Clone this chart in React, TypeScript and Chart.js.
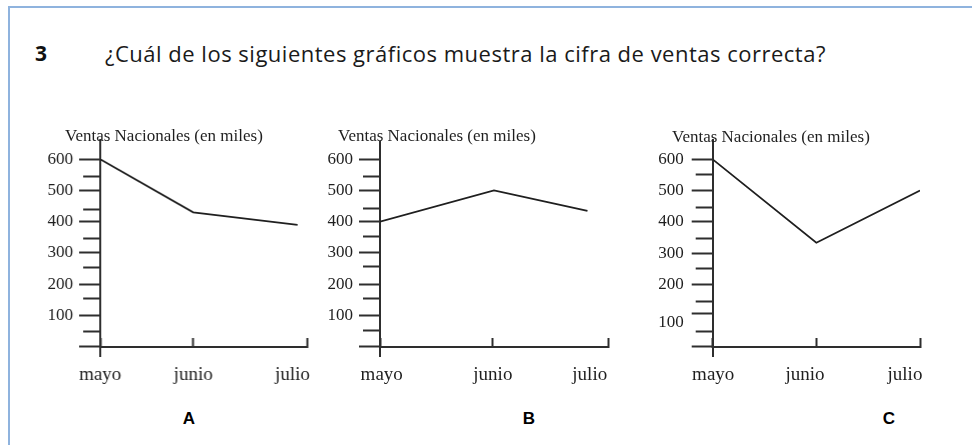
import React, { useEffect, useRef } from "react";
import { Chart, registerables } from "chart.js";

Chart.register(...registerables);

// ---------- data ----------
const QUESTION_NUMBER = "3";
const QUESTION = "¿Cuál de los siguientes gráficos muestra la cifra de ventas correcta?";
const AXIS_TITLE = "Ventas Nacionales (en miles)";
const MONTHS = ["mayo", "junio", "julio"];
const PANEL_LETTERS = ["A", "B", "C"];

// where each month tick mark sits on the x axis (mayo = 0, julio = 2)
const monthTicksA = [0, 0.9, 2];
const monthTicksB = [0, 0.99, 2];
const monthTicksC = [0, 1, 2];

// where each month name is written along the same axis
const monthLabelsAtA = [0, 0.9, 1.86];
const monthLabelsAtB = [0.015, 0.99, 1.84];
const monthLabelsAtC = [0.005, 0.89, 1.855];

// series: x position along the month axis and sales value (miles)
const seriesXA = [0, 0.9, 1.91];
const salesA = [600, 430, 390];
const seriesXB = [0, 1, 1.82];
const salesB = [400, 500, 435];
const seriesXC = [0, 1, 2];
const salesC = [600, 333, 500];

// y axis tick marks
const majorTicksAB = [0, 100, 200, 300, 400, 500, 600];
const minorTicksA = [50, 155, 255, 345, 440, 545];
const minorTicksB = [53, 155, 256, 352, 443, 546];
const majorTicksC = [0, 105, 200, 300, 400, 500, 600];
const minorTicksC = [50, 145, 250, 345, 445, 550];

// y axis tick labels (value where the label sits, text)
const labelValuesAB = [100, 200, 300, 400, 500, 600];
const labelTextsAB = ["100", "200", "300", "400", "500", "600"];
const labelValuesC = [78, 200, 300, 400, 500, 600];
const labelTextsC = ["100", "200", "300", "400", "500", "600"];

// ---------- styles ----------
const INK = "#1f1f1f";
const AXIS = "#2e2e2e";
const SERIF = "'Liberation Serif', 'Times New Roman', serif";

type PanelProps = {
  left: number;
  top: number;
  width: number;
  height: number;
  padL: number;
  padR: number;
  padT: number;
  padB: number;
  yWidth: number;
  yMax: number;
  tickPad: number;
  monthTicks: number[];
  monthLabelsAt: number[];
  xs: number[];
  values: number[];
  majors: number[];
  minors: number[];
  labelValues: number[];
  labelTexts: string[];
};

function LinePanel(p: PanelProps) {
  const ref = useRef<HTMLCanvasElement | null>(null);
  useEffect(() => {
    if (!ref.current) return;
    const allTicks = Array.from(new Set([...p.majors, ...p.minors, ...p.labelValues])).sort(
      (a, b) => a - b
    );
    const MAJOR_LEN = 21;
    const MINOR_LEN = 17;
    const chart = new Chart(ref.current, {
      type: "line",
      data: {
        datasets: [
          {
            data: p.xs.map((x, i) => ({ x, y: p.values[i] })),
            borderColor: INK,
            borderWidth: 1.8,
            pointRadius: 0,
            tension: 0,
            fill: false,
          },
        ],
      },
      options: {
        animation: false,
        responsive: false,
        maintainAspectRatio: false,
        devicePixelRatio: 1,
        events: [],
        layout: { padding: { left: p.padL, right: p.padR, top: p.padT, bottom: p.padB } },
        plugins: {
          legend: { display: false },
          tooltip: { enabled: false },
        },
        scales: {
          x: {
            type: "linear",
            position: { y: 0 },
            min: 0,
            max: 2,
            afterBuildTicks: (s: any) => {
              s.ticks = p.monthTicks.map((v) => ({ value: v }));
            },
            ticks: { display: false, autoSkip: false },
            grid: { drawOnChartArea: false, tickLength: -10, tickWidth: 2, tickColor: AXIS },
            border: { color: AXIS, width: 2 },
          },
          xLabels: {
            type: "linear",
            axis: "x",
            position: { y: 0 },
            min: 0,
            max: 2,
            afterBuildTicks: (s: any) => {
              s.ticks = p.monthLabelsAt.map((v) => ({ value: v }));
            },
            ticks: {
              callback: (_v: any, i: number) => MONTHS[i],
              color: INK,
              font: { family: SERIF, size: 19 },
              padding: 17,
              maxRotation: 0,
              autoSkip: false,
            },
            grid: { display: false, drawOnChartArea: false, drawTicks: false },
            border: { display: false },
          },
          y: {
            type: "linear",
            min: -32,
            max: p.yMax,
            afterBuildTicks: (s: any) => {
              s.ticks = allTicks.map((v) => ({ value: v }));
            },
            afterFit: (s: any) => {
              s.width = p.yWidth;
            },
            ticks: {
              callback: (v: any) => {
                const k = p.labelValues.indexOf(v);
                return k >= 0 ? p.labelTexts[k] : "";
              },
              color: INK,
              font: { family: SERIF, size: 17 },
              padding: p.tickPad,
              autoSkip: false,
            },
            grid: {
              drawOnChartArea: false,
              tickLength: MAJOR_LEN,
              tickWidth: 2,
              tickColor: (ctx: any) => {
                const v = ctx.tick ? ctx.tick.value : 0;
                return p.majors.includes(v) || p.minors.includes(v) ? AXIS : "rgba(0,0,0,0)";
              },
              tickBorderDash: (ctx: any) => {
                const v = ctx.tick ? ctx.tick.value : 0;
                return p.minors.includes(v) ? [0, MAJOR_LEN - MINOR_LEN, 100, 0] : [];
              },
            },
            border: { color: AXIS, width: 2 },
          },
        },
      } as any,
    });
    return () => chart.destroy();
  }, []);
  return (
    <canvas
      ref={ref}
      width={p.width}
      height={p.height}
      style={{ position: "absolute", left: p.left, top: p.top, width: p.width, height: p.height }}
    />
  );
}

export default function App() {
  const letterPos = [
    { x: 189, y: 418 },
    { x: 529, y: 418 },
    { x: 889, y: 418 },
  ];
  const axisTitlePos = [
    { x: 65, y: 136 },
    { x: 338, y: 136 },
    { x: 672, y: 137 },
  ];
  return (
    <div
      style={{
        position: "absolute",
        left: 0,
        top: 0,
        width: 972,
        height: 445,
        background: "#ffffff",
        overflow: "hidden",
      }}
    >
      <div
        style={{
          position: "absolute",
          left: 8,
          top: 6,
          width: 1000,
          height: 500,
          borderTop: "2px solid #8fb3de",
          borderLeft: "2px solid #8fb3de",
        }}
      />
      <div
        style={{
          position: "absolute",
          left: 35,
          top: 38,
          font: "bold 21px 'Open Sans', sans-serif",
          lineHeight: "30px",
          color: "#111",
        }}
      >
        {QUESTION_NUMBER}
      </div>
      <div
        style={{
          position: "absolute",
          left: 105,
          top: 38,
          font: "22px 'Open Sans', sans-serif",
          letterSpacing: "0.5px",
          lineHeight: "30px",
          color: "#1a1a1a",
          whiteSpace: "nowrap",
        }}
      >
        {QUESTION}
      </div>

      <LinePanel
        left={40}
        top={120}
        width={316.7}
        height={270}
        padL={4}
        padR={50}
        padT={19.6}
        padB={33.3}
        yWidth={56}
        yMax={663}
        tickPad={6}
        monthTicks={monthTicksA}
        monthLabelsAt={monthLabelsAtA}
        xs={seriesXA}
        values={salesA}
        majors={majorTicksAB}
        minors={minorTicksA}
        labelValues={labelValuesAB}
        labelTexts={labelTextsAB}
      />
      <LinePanel
        left={316}
        top={120}
        width={342.3}
        height={270}
        padL={4}
        padR={50}
        padT={21.7}
        padB={33.3}
        yWidth={60}
        yMax={656}
        tickPad={6}
        monthTicks={monthTicksB}
        monthLabelsAt={monthLabelsAtB}
        xs={seriesXB}
        values={salesB}
        majors={majorTicksAB}
        minors={minorTicksB}
        labelValues={labelValuesAB}
        labelTexts={labelTextsAB}
      />
      <LinePanel
        left={646}
        top={120}
        width={324}
        height={270}
        padL={4}
        padR={50}
        padT={20}
        padB={33.3}
        yWidth={62.7}
        yMax={662}
        tickPad={8}
        monthTicks={monthTicksC}
        monthLabelsAt={monthLabelsAtC}
        xs={seriesXC}
        values={salesC}
        majors={majorTicksC}
        minors={minorTicksC}
        labelValues={labelValuesC}
        labelTexts={labelTextsC}
      />

      {axisTitlePos.map((pos, i) => (
        <div
          key={"t" + i}
          style={{
            position: "absolute",
            left: pos.x,
            top: pos.y - 10,
            font: `17px ${SERIF}`,
            lineHeight: "20px",
            color: INK,
            whiteSpace: "nowrap",
          }}
        >
          {AXIS_TITLE}
        </div>
      ))}

      {PANEL_LETTERS.map((l, i) => (
        <div
          key={l}
          style={{
            position: "absolute",
            left: letterPos[i].x,
            top: letterPos[i].y,
            transform: "translate(-50%, -50%)",
            font: "bold 17px 'Liberation Sans', Arial, sans-serif",
            lineHeight: "1",
            color: "#000",
          }}
        >
          {l}
        </div>
      ))}
    </div>
  );
}
